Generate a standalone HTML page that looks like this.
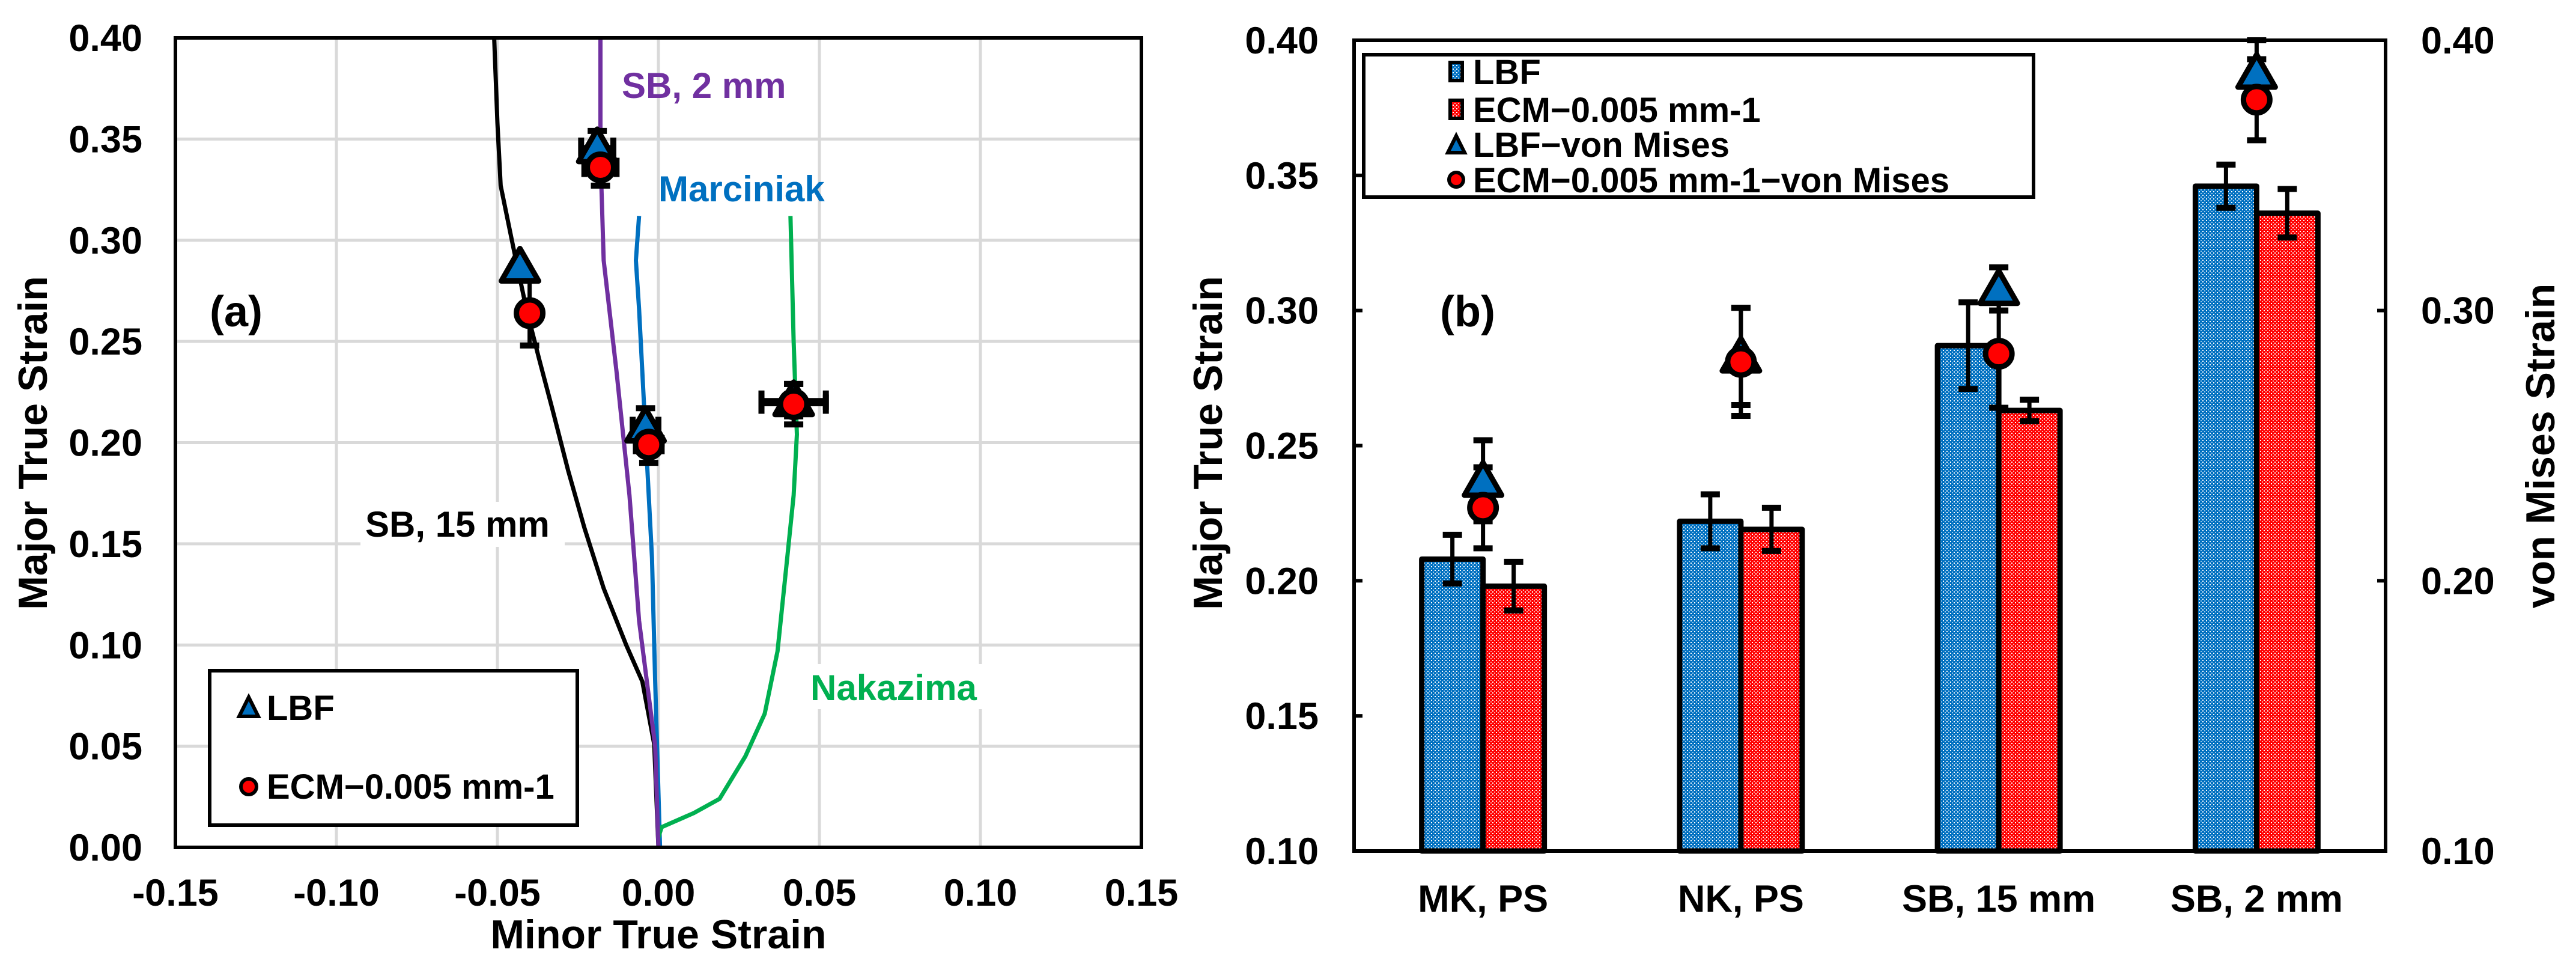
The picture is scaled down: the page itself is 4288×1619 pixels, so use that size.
<!DOCTYPE html>
<html><head><meta charset="utf-8"><style>
html,body{margin:0;padding:0;background:#fff;}
svg{display:block;font-family:"Liberation Sans",Arial,sans-serif;font-weight:bold;}
</style></head><body>
<svg id="fig" width="4288" height="1619" viewBox="0 0 4288 1619" xmlns="http://www.w3.org/2000/svg">
<defs>
<pattern id="pb" width="6" height="6" patternUnits="userSpaceOnUse"><rect width="6" height="6" fill="#0070C0"/><rect x="0" y="0" width="2" height="2" fill="#fff"/><rect x="3" y="3" width="2" height="2" fill="#9cc7ea"/></pattern>
<pattern id="pr" width="6" height="6" patternUnits="userSpaceOnUse"><rect width="6" height="6" fill="#FF0000"/><rect x="0" y="0" width="2" height="2" fill="#fff"/><rect x="3" y="3" width="2" height="2" fill="#ffaaaa"/></pattern>
</defs>
<g id="left"></g>
<g id="right"></g>
</svg>
<script>
// ---------- Chart (a) data ----------
const aXTicks = [-0.15,-0.10,-0.05,0.00,0.05,0.10,0.15];
const aYTicks = [0.00,0.05,0.10,0.15,0.20,0.25,0.30,0.35,0.40];
const sb15X = [0,-0.0013,-0.005,-0.010,-0.017,-0.023,-0.028,-0.033,-0.037,-0.041,-0.045,-0.049,-0.050,-0.051];
const sb15Y = [0,0.051,0.082,0.100,0.128,0.158,0.186,0.217,0.241,0.266,0.296,0.327,0.358,0.400];
const sb2X = [0,-0.001,-0.006,-0.009,-0.013,-0.017,-0.018,-0.018];
const sb2Y = [0,0.050,0.112,0.174,0.235,0.290,0.342,0.400];
const mkX = [0.0005,-0.001,-0.002,-0.004,-0.006,-0.007,-0.006];
const mkY = [0,0.082,0.143,0.204,0.266,0.290,0.312];
const nkX = [0,0.001,0.011,0.019,0.027,0.033,0.037,0.040,0.042,0.043,0.042,0.041];
const nkY = [0.005,0.010,0.017,0.024,0.045,0.066,0.097,0.143,0.174,0.204,0.250,0.312];
const lbfPtX = [-0.019,-0.043,-0.004,0.042];
const lbfPtY = [0.346,0.287,0.208,0.221];
const lbfPtXErr = [0.005,0,0.004,0.010];
const lbfPtYErr = [0.008,0,0.009,0.008];
const ecmPtX = [-0.018,-0.040,-0.003,0.042];
const ecmPtY = [0.336,0.264,0.199,0.219];
const ecmPtXErr = [0.005,0,0.004,0.010];
const ecmPtYErr = [0.009,0.016,0.009,0.010];

// ---------- Chart (b) data ----------
const categories = ["MK, PS","NK, PS","SB, 15 mm","SB, 2 mm"];
const lbfBar = [0.208,0.222,0.287,0.346];
const lbfBarErr = [0.009,0.010,0.016,0.008];
const ecmBar = [0.198,0.219,0.263,0.336];
const ecmBarErr = [0.009,0.008,0.004,0.009];
const lbfVM = [0.237,0.283,0.308,0.388];
const lbfVMErr = [0.015,0.018,0.008,0.012];
const ecmVM = [0.227,0.281,0.284,0.378];
const ecmVMErr = [0.015,0.020,0.020,0.015];
const bYTicks = [0.10,0.15,0.20,0.25,0.30,0.35,0.40];
const bY2Ticks = [0.10,0.20,0.30,0.40];

const NS="http://www.w3.org/2000/svg";
function mk(parent,tag,attrs,text){const e=document.createElementNS(NS,tag);for(const k in attrs)e.setAttribute(k,attrs[k]);if(text!==undefined)e.textContent=text;parent.appendChild(e);return e;}

// ---------- Chart (a) ----------
const L=document.getElementById('left');
const aL=292,aR=1900,aT=63,aB=1410;
const ax=v=>aL+(v+0.15)/0.30*(aR-aL);
const ay=v=>aB-(v/0.40)*(aB-aT);
aXTicks.forEach(t=>{const g=mk(L,'line',{x1:ax(t),x2:ax(t),y1:aT,y2:aB,stroke:'#d9d9d9','stroke-width':5});


const tx=mk(L,'text',{x:ax(t),y:1507,'font-size':63,'text-anchor':'middle'},t.toFixed(2));

});
aYTicks.forEach(t=>{const g=mk(L,'line',{x1:aL,x2:aR,y1:ay(t),y2:ay(t),stroke:'#d9d9d9','stroke-width':5});


const tx=mk(L,'text',{x:237,y:ay(t)+22,'font-size':63,'text-anchor':'end'},t.toFixed(2));

});
function curve(xs,ys,color,name){const d=xs.map((x,i)=>(i?'L':'M')+ax(x).toFixed(1)+','+ay(ys[i]).toFixed(1)).join(' ');
const p=mk(L,'path',{d:d,fill:'none',stroke:color,'stroke-width':7,'stroke-linejoin':'round'});

}
curve(sb15X,sb15Y,'#000','sb-15mm-curve');
curve(mkX,mkY,'#0070C0','marciniak-curve');
curve(nkX,nkY,'#00B050','nakazima-curve');
curve(sb2X,sb2Y,'#7030A0','sb-2mm-curve');
function errbar(P,x1,y1,x2,y2,horiz,name){const cap=16;
const g=mk(P,'g',{});


mk(g,'line',{x1:x1,y1:y1,x2:x2,y2:y2,stroke:'#000','stroke-width':7});
if(horiz){mk(g,'line',{x1:x1,x2:x1,y1:y1-cap,y2:y1+cap,stroke:'#000','stroke-width':10});mk(g,'line',{x1:x2,x2:x2,y1:y2-cap,y2:y2+cap,stroke:'#000','stroke-width':10});}
else{mk(g,'line',{x1:x1-cap,x2:x1+cap,y1:y1,y2:y1,stroke:'#000','stroke-width':10});mk(g,'line',{x1:x2-cap,x2:x2+cap,y1:y2,y2:y2,stroke:'#000','stroke-width':10});}}
function tri(P,cx,cy,name){const p=mk(P,'path',{d:`M${cx},${cy-30} L${cx+31},${cy+24} L${cx-31},${cy+24} Z`,fill:'#0070C0',stroke:'#000','stroke-width':9,'stroke-linejoin':'round'});

}
function circ(P,cx,cy,name){const c=mk(P,'circle',{cx:cx,cy:cy,r:22,fill:'#FF0000',stroke:'#000','stroke-width':9});

}
lbfPtX.forEach((x,i)=>{const cx=ax(x),cy=ay(lbfPtY[i]);
if(lbfPtYErr[i])errbar(L,cx,ay(lbfPtY[i]+lbfPtYErr[i]),cx,ay(lbfPtY[i]-lbfPtYErr[i]),false,'lbf-y-error');
if(lbfPtXErr[i])errbar(L,ax(x-lbfPtXErr[i]),cy,ax(x+lbfPtXErr[i]),cy,true,'lbf-x-error');});
ecmPtX.forEach((x,i)=>{const cx=ax(x),cy=ay(ecmPtY[i]);
if(ecmPtYErr[i])errbar(L,cx,ay(ecmPtY[i]+ecmPtYErr[i]),cx,ay(ecmPtY[i]-ecmPtYErr[i]),false,'ecm-y-error');
if(ecmPtXErr[i])errbar(L,ax(x-ecmPtXErr[i]),cy,ax(x+ecmPtXErr[i]),cy,true,'ecm-x-error');});
lbfPtX.forEach((x,i)=>tri(L,ax(x),ay(lbfPtY[i]),'lbf-point'));
ecmPtX.forEach((x,i)=>circ(L,ax(x),ay(ecmPtY[i]),'ecm-point'));
</script>
<script>
// labels / frame chart a
(function(){
const L=document.getElementById('left');
function t(x,y,s,txt,fill,name,anchor,extra){const e=mk(L,'text',Object.assign({x:x,y:y,'font-size':s,fill:fill||'#000','text-anchor':anchor||'start'},extra||{}),txt);

return e;}
const bg=mk(L,'rect',{x:600,y:835,width:340,height:75,fill:'#fff'});


t(608,893,60,'SB, 15 mm','#000','sb-15mm-label');
t(1035,163,60,'SB, 2 mm','#7030A0','sb-2mm-label');
t(1096,335,60,'Marciniak','#0070C0','marciniak-label');
const bg2=mk(L,'rect',{x:1340,y:1105,width:300,height:75,fill:'#fff'});


t(1349,1165,60,'Nakazima','#00B050','nakazima-label');
t(349,543,72,'(a)','#000','panel-label-a');
const f=mk(L,'rect',{x:292,y:63,width:1608,height:1347,fill:'none',stroke:'#000','stroke-width':6});


const lg=mk(L,'g',{});


mk(lg,'rect',{x:349,y:1116,width:612,height:257,fill:'#fff',stroke:'#000','stroke-width':6});
const tr=mk(lg,'path',{d:'M414,1160 L430,1192 L398,1192 Z',fill:'#0070C0',stroke:'#000','stroke-width':6});


const ct=mk(lg,'text',{x:444,y:1198,'font-size':58},'LBF');


const cc=mk(lg,'circle',{cx:414,cy:1309,r:13,fill:'#FF0000',stroke:'#000','stroke-width':6});


const c2=mk(lg,'text',{x:444,y:1329,'font-size':58},'ECM\u22120.005 mm-1');


t(1096,1578,68,'Minor True Strain','#000','x-axis-title','middle');
t(0,0,68,'Major True Strain','#000','y-axis-title','middle',{transform:'translate(78,737) rotate(-90)'});
})();
</script>
<script>
// ---------- Chart (b) ----------
(function(){
const R=document.getElementById('right');
const bL=2254,bR=3971,bT=67,bB=1416;
const by=v=>bB-(v-0.10)/0.30*(bB-bT);
const band=(bR-bL)/categories.length;
const bc=i=>bL+band*(i+0.5);
const bw=102;
bYTicks.forEach(v=>{const tk=mk(R,'line',{x1:bL,x2:bL+14,y1:by(v),y2:by(v),stroke:'#000','stroke-width':6});


const tx=mk(R,'text',{x:2195,y:by(v)+22,'font-size':63,'text-anchor':'end'},v.toFixed(2));

});
bY2Ticks.forEach(v=>{const tk=mk(R,'line',{x1:bR-14,x2:bR,y1:by(v),y2:by(v),stroke:'#000','stroke-width':6});


const tx=mk(R,'text',{x:4030,y:by(v)+22,'font-size':63},v.toFixed(2));

});
categories.forEach((c,i)=>{const tx=mk(R,'text',{x:bc(i),y:1517,'font-size':63,'text-anchor':'middle'},c);

});
function errb(x,v,e,name){const g=mk(R,'g',{});


mk(g,'line',{x1:x,x2:x,y1:by(v+e),y2:by(v-e),stroke:'#000','stroke-width':7});
mk(g,'line',{x1:x-16,x2:x+16,y1:by(v+e),y2:by(v+e),stroke:'#000','stroke-width':10});
mk(g,'line',{x1:x-16,x2:x+16,y1:by(v-e),y2:by(v-e),stroke:'#000','stroke-width':10});}
categories.forEach((c,i)=>{
const r1=mk(R,'rect',{x:bc(i)-bw,y:by(lbfBar[i]),width:bw,height:bB-by(lbfBar[i]),fill:'url(#pb)',stroke:'#000','stroke-width':9,'stroke-linejoin':'round'});


const r2=mk(R,'rect',{x:bc(i),y:by(ecmBar[i]),width:bw,height:bB-by(ecmBar[i]),fill:'url(#pr)',stroke:'#000','stroke-width':9,'stroke-linejoin':'round'});


errb(bc(i)-bw/2,lbfBar[i],lbfBarErr[i],'bar-lbf-error');
errb(bc(i)+bw/2,ecmBar[i],ecmBarErr[i],'bar-ecm-error');
errb(bc(i),lbfVM[i],lbfVMErr[i],'vm-lbf-error');
errb(bc(i),ecmVM[i],ecmVMErr[i],'vm-ecm-error');
});
categories.forEach((c,i)=>{const cx=bc(i),cy=by(lbfVM[i]);
const p=mk(R,'path',{d:`M${cx},${cy-30} L${cx+31},${cy+24} L${cx-31},${cy+24} Z`,fill:'#0070C0',stroke:'#000','stroke-width':9,'stroke-linejoin':'round'});

});
categories.forEach((c,i)=>{const e=mk(R,'circle',{cx:bc(i),cy:by(ecmVM[i]),r:22,fill:'#FF0000',stroke:'#000','stroke-width':9});

});
const f=mk(R,'rect',{x:bL,y:bT,width:bR-bL,height:bB-bT,fill:'none',stroke:'#000','stroke-width':6});


const pl=mk(R,'text',{x:2397,y:543,'font-size':72},'(b)');


const lg=mk(R,'g',{});


mk(lg,'rect',{x:2270,y:91,width:1115,height:237,fill:'#fff',stroke:'#000','stroke-width':6});
const ys=[119,182,240,299];
const labels=['LBF','ECM\u22120.005 mm-1','LBF\u2212von Mises','ECM\u22120.005 mm-1\u2212von Mises'];
mk(lg,'rect',{x:2414,y:104,width:20,height:30,fill:'url(#pb)',stroke:'#000','stroke-width':6});
mk(lg,'rect',{x:2414,y:167,width:20,height:30,fill:'url(#pr)',stroke:'#000','stroke-width':6});
mk(lg,'path',{d:'M2424,226 L2438,254 L2410,254 Z',fill:'#0070C0',stroke:'#000','stroke-width':6});
mk(lg,'circle',{cx:2424,cy:299,r:12,fill:'#FF0000',stroke:'#000','stroke-width':6});
labels.forEach((s,i)=>{const e=mk(lg,'text',{x:2452,y:ys[i]+21,'font-size':58},s);

});
const yt=mk(R,'text',{x:0,y:0,'font-size':68,'text-anchor':'middle',transform:'translate(2034,737) rotate(-90)'},'Major True Strain');


const y2=mk(R,'text',{x:0,y:0,'font-size':68,'text-anchor':'middle',transform:'translate(4252,742) rotate(-90)'},'von Mises Strain');


})();
</script>
</body></html>
